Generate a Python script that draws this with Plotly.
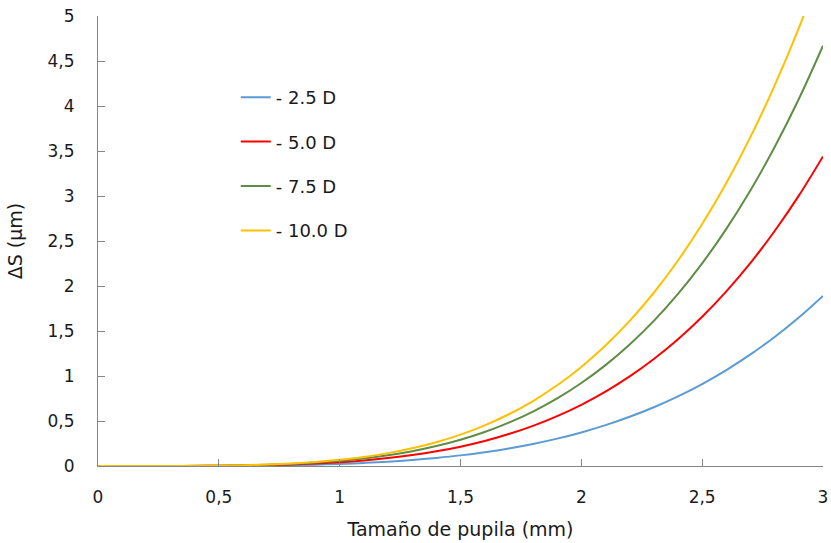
import plotly.graph_objects as go

pupil_mm = [0.0, 0.1, 0.2, 0.3, 0.4, 0.5, 0.6, 0.7, 0.8, 0.9, 1.0,
            1.1, 1.2, 1.3, 1.4, 1.5, 1.6, 1.7, 1.8, 1.9, 2.0,
            2.1, 2.2, 2.3, 2.4, 2.5, 2.6, 2.7, 2.8, 2.9, 3.0]

ds_25 = [0.0, 0.0, 0.0, 0.0002, 0.0006, 0.0015, 0.003, 0.0056, 0.0096, 0.015, 0.023,
         0.034, 0.048, 0.067, 0.090, 0.118, 0.153, 0.195, 0.245, 0.304, 0.373,
         0.454, 0.547, 0.653, 0.774, 0.911, 1.066, 1.240, 1.434, 1.650, 1.89]
ds_50 = [0.0, 0.0, 0.0001, 0.0003, 0.0011, 0.0027, 0.0055, 0.0102, 0.0174, 0.0279, 0.0425,
         0.062, 0.088, 0.121, 0.163, 0.215, 0.278, 0.355, 0.446, 0.554, 0.680,
         0.826, 0.995, 1.189, 1.409, 1.659, 1.941, 2.257, 2.611, 3.004, 3.44]
ds_75 = [0.0, 0.0, 0.0001, 0.0005, 0.0015, 0.0036, 0.0075, 0.0138, 0.0236, 0.0378, 0.0577,
         0.084, 0.120, 0.165, 0.222, 0.292, 0.378, 0.482, 0.605, 0.751, 0.922,
         1.121, 1.351, 1.613, 1.913, 2.252, 2.635, 3.064, 3.544, 4.078, 4.67]
ds_100 = [0.0, 0.0, 0.0001, 0.0006, 0.0018, 0.0043, 0.0089, 0.0165, 0.0282, 0.0451, 0.0688,
          0.101, 0.143, 0.197, 0.264, 0.348, 0.451, 0.575, 0.722, 0.897, 1.101,
          1.338, 1.612, 1.925, 2.283, 2.688, 3.144, 3.657, 4.229, 4.866, 5.573]

names = ["- 2.5 D", "- 5.0 D", "- 7.5 D", "- 10.0 D"]
colors = ["#5B9BD5", "#FF0000", "#5F8D45", "#FFC000"]
series = [ds_25, ds_50, ds_75, ds_100]

FONT = "DejaVu Sans"
TXT = "#1a1a1a"

fig = go.Figure()
for i, (nm, col, ys) in enumerate(zip(names, colors, series)):
    fig.add_trace(go.Scatter(
        x=pupil_mm, y=ys, mode="lines", name=nm,
        line=dict(color=col, width=2, shape="spline"),
        legendgroup=f"g{i}",
    ))

axis_common = dict(
    showgrid=False, zeroline=False, showline=True,
    linecolor="#868686", linewidth=1,
    ticks="inside", ticklen=7, tickcolor="#868686", tickwidth=1,
    tickfont=dict(family=FONT, size=17, color=TXT),
    dtick=0.5, tick0=0, automargin=False,
)

fig.update_layout(
    width=831, height=543,
    margin=dict(l=98, r=8, t=16, b=77),
    paper_bgcolor="white", plot_bgcolor="white",
    separators=",.",
    font=dict(family=FONT, color=TXT),
    xaxis=dict(range=[0, 3], title=dict(text="Tamaño de pupila (mm)",
               font=dict(family=FONT, size=19, color=TXT), standoff=16),
               ticklabelstandoff=16, **axis_common),
    yaxis=dict(range=[0, 5], title=dict(text="ΔS (µm)",
               font=dict(family=FONT, size=19, color=TXT), standoff=19),
               ticklabelstandoff=19, **axis_common),
    legend=dict(x=0.19, y=0.86, xanchor="left", yanchor="top",
                font=dict(family=FONT, size=18, color=TXT),
                traceorder="grouped", tracegroupgap=18,
                bgcolor="rgba(0,0,0,0)", itemwidth=30),
    showlegend=True,
)

fig.write_html("out.html",
               config={"displayModeBar": False},
               post_script="document.body.style.margin='0';document.body.style.padding='0';")
